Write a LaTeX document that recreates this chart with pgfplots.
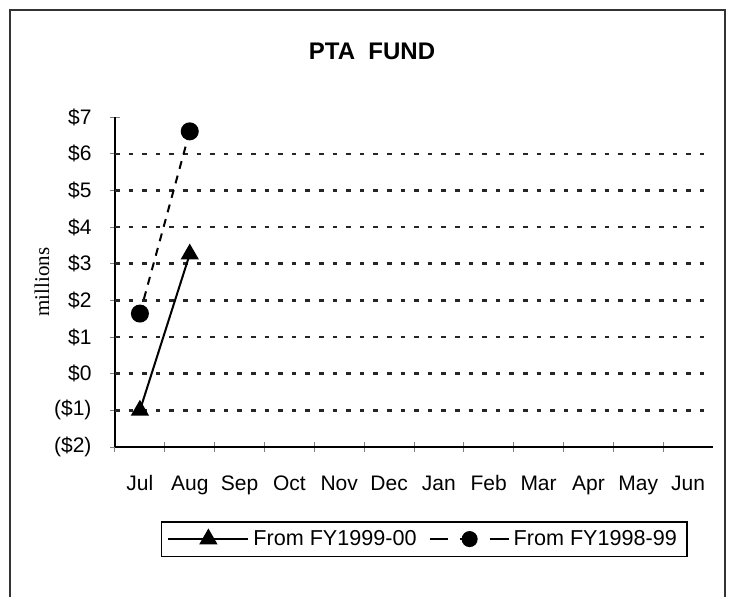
\documentclass[border=0pt]{standalone}
\usepackage{fontspec}
\setmainfont{Liberation Sans}
\newfontfamily\serifff{Liberation Serif}
\usepackage{pgfplots}
\pgfplotsset{compat=1.18}
\begin{document}
\begin{tikzpicture}
\useasboundingbox (0,0) rectangle (366.5pt,-298pt);
\draw[line width=0.6pt, black!80] (5pt,-5pt) rectangle (362.5pt,-305pt);
\node[font=\fontsize{12}{14}\selectfont\bfseries] at (186pt,-25.5pt) {PTA\ \ FUND};
\begin{axis}[
  at={(57.5pt,-223.5pt)}, anchor=south west,
  scale only axis, width=299pt, height=165pt,
  xmin=0.5, xmax=12.5, ymin=-2, ymax=7,
  axis lines=left, axis line style={-, line width=0.6pt},
  xtick={1,...,12},
  xticklabels={Jul,Aug,Sep,Oct,Nov,Dec,Jan,Feb,Mar,Apr,May,Jun},
  major x tick style={draw=none},
  minor xtick={0.5,1.5,...,11.5},
  minor x tick style={line width=0.5pt},
  minor tick length=5pt,
  xtick pos=bottom, tick align=center,
  ytick={-2,...,7},
  yticklabels={(\$2),(\$1),\$0,\$1,\$2,\$3,\$4,\$5,\$6,\$7},
  major tick length=4.5pt,
  y tick style={line width=0.5pt},
  extra y ticks={-1,0,1,2,3,4,5,6},
  extra y tick labels={},
  extra y tick style={grid=major, major tick length=0pt},
  grid style={line width=1.2pt, dash pattern=on 2.3pt off 4.5pt, black!85},
  tick label style={font=\fontsize{10.5}{12}\selectfont},
  xticklabel style={anchor=base, yshift=-19.5pt},
  yticklabel style={xshift=-6pt},
  ylabel={\serifff millions},
  ylabel style={font=\fontsize{10.5}{12}\selectfont, at={(axis description cs:-0.122,0.5)}, anchor=center, rotate=0},
  clip=false,
  legend style={at={(axis description cs:0.517,-0.279)}, anchor=center, legend columns=2,
    font=\fontsize{10.8}{12}\selectfont, draw=black, line width=0.6pt,
    inner xsep=3pt, inner ysep=2pt,
    /tikz/every even column/.append style={column sep=4pt}},
]
\addplot[black, line width=1pt, mark=triangle*, mark size=4.3pt, mark options={solid},
  legend image code/.code={
    \draw[black, solid, line width=1pt] (0pt,0pt) -- (40pt,0pt);
    \draw[black, solid, fill=black] plot[mark=triangle*, mark size=4.3pt] coordinates {(20pt,0pt)};
  }]
  coordinates {(1,-1) (2,3.26)};
\addlegendentry{From FY1999-00}
\addplot[black, line width=1pt, dash pattern=on 4pt off 3.5pt, mark=*, mark size=4pt, mark options={solid},
  legend image code/.code={
    \draw[black, solid, line width=1pt] (0pt,0pt) -- (9pt,0pt);
    \draw[black, solid, line width=1pt] (15pt,0pt) -- (20pt,0pt);
    \draw[black, solid, line width=1pt] (30pt,0pt) -- (39.5pt,0pt);
    \draw[black, solid, fill=black] plot[mark=*, mark size=3.5pt] coordinates {(20pt,0pt)};
  }]
  coordinates {(1,1.64) (2,6.61)};
\addlegendentry{From FY1998-99}
\end{axis}
\end{tikzpicture}
\end{document}
